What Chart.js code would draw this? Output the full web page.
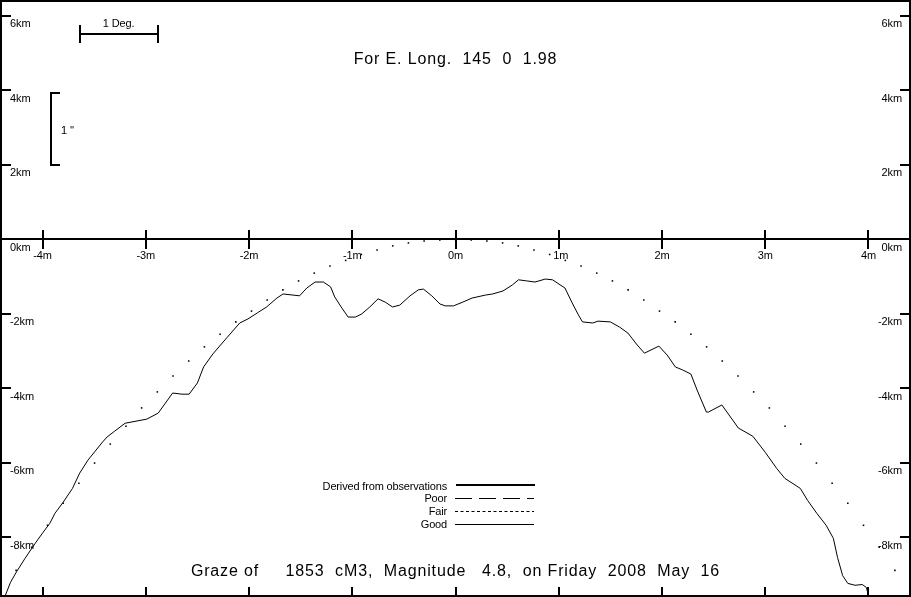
<!DOCTYPE html>
<html>
<head>
<meta charset="utf-8">
<title>Graze of 1853 cM3</title>
<script src="https://cdn.jsdelivr.net/npm/chart.js@4"></script>
<style>
  html, body { margin: 0; padding: 0; background: #fff; overflow: hidden; }
  #wrap { width: 911px; height: 597px; }
  canvas { display: block; }
</style>
</head>
<body>
<div id="wrap"><canvas id="grazeChart" width="911" height="597"></canvas></div>
<script>
// profile: minutes along the limb, km
const goodMinutes = [-4.36, -4.31, -4.25, -4.17, -4.07, -3.995, -3.93, -3.88, -3.80, -3.71, -3.64, -3.56, -3.49, -3.42, -3.375, -3.30, -3.20, -3.085, -2.99, -2.88, -2.81, -2.74, -2.65, -2.58, -2.50, -2.44, -2.35, -2.21, -2.09, -2.01, -1.92, -1.83, -1.73, -1.67, -1.51, -1.44, -1.36, -1.28, -1.21, -1.17, -1.10, -1.04, -0.97, -0.91, -0.83, -0.75, -0.68, -0.61, -0.54, -0.44, -0.36, -0.31, -0.23, -0.15, -0.10, -0.02, 0.07, 0.16, 0.29, 0.36, 0.46, 0.55, 0.61, 0.69, 0.77, 0.87, 0.94, 1.06, 1.13, 1.19, 1.23, 1.33, 1.38, 1.50, 1.59, 1.67, 1.76, 1.83, 1.97, 2.05, 2.13, 2.20, 2.28, 2.34, 2.43, 2.45, 2.58, 2.74, 2.88, 3.00, 3.11, 3.19, 3.34, 3.41, 3.50, 3.59, 3.66, 3.70, 3.75, 3.80, 3.87, 3.94, 3.98, 4.00];
const goodKm = [-9.56, -9.21, -8.92, -8.57, -8.16, -7.87, -7.63, -7.36, -7.06, -6.69, -6.28, -5.93, -5.69, -5.45, -5.31, -5.15, -4.94, -4.88, -4.83, -4.67, -4.40, -4.13, -4.16, -4.16, -3.86, -3.43, -3.08, -2.63, -2.25, -2.14, -1.98, -1.82, -1.58, -1.47, -1.52, -1.31, -1.15, -1.15, -1.28, -1.55, -1.85, -2.09, -2.09, -2.01, -1.82, -1.60, -1.69, -1.82, -1.77, -1.52, -1.36, -1.34, -1.52, -1.74, -1.79, -1.79, -1.69, -1.58, -1.50, -1.47, -1.39, -1.23, -1.09, -1.12, -1.15, -1.07, -1.09, -1.31, -1.71, -2.03, -2.22, -2.25, -2.20, -2.22, -2.36, -2.52, -2.84, -3.06, -2.87, -3.11, -3.43, -3.51, -3.62, -4.05, -4.64, -4.64, -4.45, -5.07, -5.29, -5.72, -6.15, -6.42, -6.69, -7.01, -7.36, -7.68, -8.03, -8.54, -9.03, -9.24, -9.29, -9.27, -9.35, -9.56];

// dotted curve
const dotMinutes = [-4.256, -4.104, -3.952, -3.80, -3.648, -3.496, -3.344, -3.192, -3.04, -2.888, -2.736, -2.584, -2.432, -2.28, -2.128, -1.976, -1.824, -1.672, -1.52, -1.368, -1.216, -1.064, -0.912, -0.76, -0.608, -0.456, -0.304, -0.152, 0, 0.152, 0.304, 0.456, 0.608, 0.76, 0.912, 1.064, 1.216, 1.368, 1.52, 1.672, 1.824, 1.976, 2.128, 2.28, 2.432, 2.584, 2.736, 2.888, 3.04, 3.192, 3.344, 3.496, 3.648, 3.80, 3.952, 4.104, 4.256];
const dotKm = [-8.89, -8.27, -7.68, -7.09, -6.55, -6.01, -5.50, -5.02, -4.53, -4.10, -3.67, -3.27, -2.89, -2.55, -2.22, -1.93, -1.63, -1.36, -1.12, -0.91, -0.72, -0.57, -0.41, -0.29, -0.18, -0.10, -0.05, -0.02, -0.01, -0.02, -0.05, -0.10, -0.18, -0.29, -0.41, -0.57, -0.72, -0.91, -1.12, -1.36, -1.63, -1.93, -2.22, -2.55, -2.89, -3.27, -3.67, -4.10, -4.53, -5.02, -5.50, -6.01, -6.55, -7.09, -7.68, -8.27, -8.89];

const xTicks = [-4, -3, -2, -1, 0, 1, 2, 3, 4];
const xTickLabels = ["-4m", "-3m", "-2m", "-1m", "0m", "1m", "2m", "3m", "4m"];
const yTicks = [6, 4, 2, 0, -2, -4, -6, -8];
const yTickLabels = ["6km", "4km", "2km", "0km", "-2km", "-4km", "-6km", "-8km"];

const topTitle = "For E. Long.  145  0  1.98";
const bottomTitle = "Graze of     1853  cM3,  Magnitude   4.8,  on Friday  2008  May  16";
const legendLabels = ["Derived from observations", "Poor", "Fair", "Good"];

const degBarMinutes = [-3.64, -2.885];
const degBarKm = 5.51;
const arcBarMinute = -3.92;
const arcBarKm = [1.98, 3.95];

const mainFont = '"Liberation Sans", Arial, sans-serif';

// axes, frame, labels and scale bars go on the canvas after the datasets
const grazeFrame = {
  id: "grazeFrame",
  afterDatasetsDraw(chart) {
    const ctx = chart.ctx;
    const sx = chart.scales.x;
    const sy = chart.scales.y;
    const W = chart.width;
    const H = chart.height;
    const box = (x, y, w, h) => ctx.fillRect(Math.round(x), Math.round(y), w, h);

    ctx.save();
    ctx.fillStyle = "#000";
    ctx.strokeStyle = "#000";

    // frame
    box(0, 0, W, 2);
    box(0, H - 2, W, 2);
    box(0, 0, 2, H);
    box(W - 2, 0, 2, H);

    // zero line
    const zero = sy.getPixelForValue(0);
    box(0, zero - 1, W, 2);

    // minute ticks on the zero line and on the bottom edge
    ctx.textAlign = "center";
    ctx.textBaseline = "middle";
    ctx.font = "11px " + mainFont;
    ctx.letterSpacing = "-0.1px";
    xTicks.forEach((v, i) => {
      const px = sx.getPixelForValue(v);
      box(px - 1, zero - 9, 2, 19);
      box(px - 1, H - 10, 2, 8);
      ctx.fillText(xTickLabels[i], px + (v === 1 ? 2 : 0), zero + 17);
    });

    // km ticks both sides
    yTicks.forEach((v, i) => {
      const py = sy.getPixelForValue(v);
      if (v !== 0) {
        box(2, py - 1, 9, 2);
        box(W - 11, py - 1, 9, 2);
      }
      ctx.textAlign = "left";
      ctx.fillText(yTickLabels[i], 10, py + 8.5);
      ctx.textAlign = "right";
      ctx.fillText(yTickLabels[i], 902, py + 8.5);
    });

    // 1 Deg. bar
    const dx0 = sx.getPixelForValue(degBarMinutes[0]);
    const dx1 = sx.getPixelForValue(degBarMinutes[1]);
    const dy = sy.getPixelForValue(degBarKm);
    box(dx0, dy - 1, dx1 - dx0, 2);
    box(dx0 - 1, dy - 9, 2, 18);
    box(dx1 - 1, dy - 9, 2, 18);
    ctx.textAlign = "center";
    ctx.fillText("1 Deg.", (dx0 + dx1) / 2, 24);

    // 1" bracket
    const ax = sx.getPixelForValue(arcBarMinute);
    const ay0 = sy.getPixelForValue(arcBarKm[1]);
    const ay1 = sy.getPixelForValue(arcBarKm[0]);
    box(ax - 1, ay0, 2, ay1 - ay0);
    box(ax - 1, ay0, 10, 2);
    box(ax - 1, ay1 - 1, 10, 2);
    ctx.textAlign = "left";
    ctx.fillText("1 ''", 61, 130.5);

    // legend
    ctx.textAlign = "right";
    ctx.letterSpacing = "-0.16px";
    const rowY = [486.5, 499, 512, 525];
    legendLabels.forEach((t, i) => ctx.fillText(t, 447, rowY[i]));
    box(456, 484, 79, 2);
    ctx.lineWidth = 1;
    ctx.setLineDash([17, 7]);
    ctx.beginPath(); ctx.moveTo(455, 498.5); ctx.lineTo(534, 498.5); ctx.stroke();
    ctx.setLineDash([3, 2.5]);
    ctx.beginPath(); ctx.moveTo(455, 511.5); ctx.lineTo(534, 511.5); ctx.stroke();
    ctx.setLineDash([]);
    ctx.beginPath(); ctx.moveTo(455, 524.5); ctx.lineTo(534, 524.5); ctx.stroke();

    // titles
    ctx.font = "16px " + mainFont;
    ctx.letterSpacing = "0.85px";
    ctx.textAlign = "center";
    ctx.fillText(topTitle, 455.5, 60);
    ctx.fillText(bottomTitle, 455.5, 572);
    ctx.restore();
  }
};

new Chart(document.getElementById("grazeChart").getContext("2d"), {
  type: "scatter",
  data: {
    datasets: [
      {
        label: "Fair",
        data: dotMinutes.map((m, i) => ({ x: m, y: dotKm[i] })),
        pointStyle: "rect",
        pointRadius: 1.1,
        pointBackgroundColor: "#000",
        pointBorderWidth: 0,
        showLine: false
      },
      {
        label: "Good",
        data: goodMinutes.map((m, i) => ({ x: m, y: goodKm[i] })),
        showLine: true,
        borderColor: "#000",
        borderWidth: 1,
        pointRadius: 0,
        tension: 0
      }
    ]
  },
  options: {
    responsive: false,
    animation: false,
    devicePixelRatio: 1,
    layout: { padding: 0, autoPadding: false },
    plugins: { legend: { display: false }, tooltip: { enabled: false } },
    scales: {
      x: { type: "linear", min: -4.412, max: 4.412, display: false },
      y: { type: "linear", min: -9.605, max: 6.421, display: false }
    }
  },
  plugins: [grazeFrame]
});
</script>
</body>
</html>
